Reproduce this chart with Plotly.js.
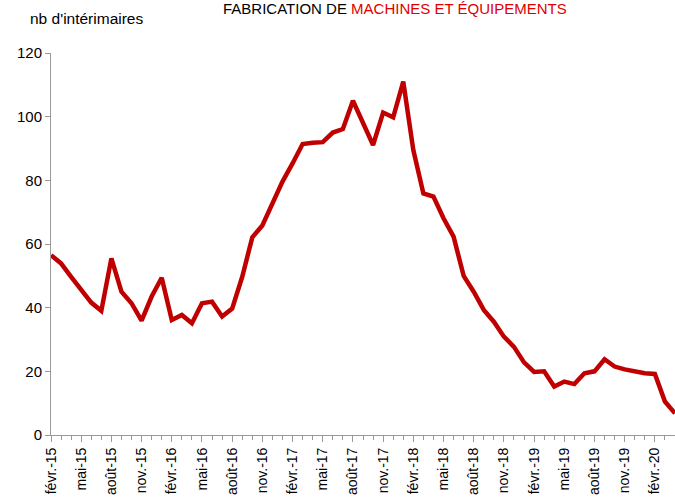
<!DOCTYPE html>
<html>
<head>
<meta charset="utf-8">
<script src="https://cdn.plot.ly/plotly-3.0.1.min.js"></script>
<style>html,body{margin:0;padding:0;background:#fff;}#chart{width:675px;height:504px;}</style>
</head>
<body>
<div id="chart"></div>
<script>
// Monthly values, févr.-15 to avr.-20
var interimaires = [56.5, 53.9, 49.7, 45.8, 41.6, 39.0, 55.5, 45.0, 41.4, 35.9,
  43.5, 49.4, 36.1, 37.7, 35.1, 41.4, 41.9, 37.2, 39.7, 49.7,
  62.1, 65.8, 72.8, 79.6, 85.3, 91.4, 91.8, 92.0, 95.0, 96.1,
  105.0, 97.9, 91.1, 101.3, 99.8, 111.0, 89.5, 75.9, 74.9, 68.1,
  62.3, 50.0, 45.0, 39.3, 35.6, 30.9, 27.7, 22.8, 19.8, 20.0,
  15.2, 16.8, 16.0, 19.4, 20.0, 23.8, 21.5, 20.6, 19.9, 19.4,
  19.2, 10.5, 6.8];
var tickLabels = ["févr.-15","mai-15","août-15","nov.-15","févr.-16","mai-16","août-16","nov.-16",
  "févr.-17","mai-17","août-17","nov.-17","févr.-18","mai-18","août-18","nov.-18",
  "févr.-19","mai-19","août-19","nov.-19","févr.-20"];
var yTicks = [0, 20, 40, 60, 80, 100, 120];

var xIdx = interimaires.map(function(_, i){ return i; });
var tickPos = tickLabels.map(function(_, i){ return i * 3; });

var font = "'Liberation Sans', Arial, sans-serif";

var trace = {
  x: xIdx, y: interimaires, type: 'scatter', mode: 'lines',
  line: {color: '#c00000', width: 4.5}, hoverinfo: 'skip', cliponaxis: false
};

var layout = {
  width: 675, height: 504,
  margin: {l: 51, r: 0, t: 53, b: 69},
  paper_bgcolor: '#fff', plot_bgcolor: '#fff',
  showlegend: false,
  font: {family: font, size: 15, color: '#000'},
  xaxis: {
    range: [0, interimaires.length - 1],
    tickmode: 'array', tickvals: tickPos, ticktext: tickLabels,
    tickangle: -90, ticks: 'outside', ticklen: 6, tickcolor: '#999',
    minor: {tickmode: 'linear', tick0: 0, dtick: 1, ticks: 'outside', ticklen: 4, tickcolor: '#999'},
    showline: true, linecolor: '#999', linewidth: 1,
    showgrid: false, zeroline: false, automargin: false,
    tickfont: {family: font, size: 14, color: '#000'}
  },
  yaxis: {
    range: [0, 120], tickmode: 'array', tickvals: yTicks,
    ticks: 'outside', ticklen: 5, tickcolor: '#999',
    showline: true, linecolor: '#999', linewidth: 1,
    showgrid: false, zeroline: false, automargin: false,
    tickfont: {family: font, size: 15, color: '#000'}
  },
  annotations: [
    {text: "FABRICATION DE <span style='color:#e00000'>MACHINES ET ÉQUIPEMENTS</span>",
     xref: 'paper', yref: 'paper', x: 0.551, y: 1, xanchor: 'center', yanchor: 'bottom',
     yshift: 34, showarrow: false, font: {family: font, size: 15, color: '#000'}},
    {text: "nb d'intérimaires", xref: 'paper', yref: 'paper', x: 0, y: 1,
     xanchor: 'left', yanchor: 'middle', xshift: -23, yshift: 35, showarrow: false,
     font: {family: font, size: 15.5, color: '#000'}}
  ]
};

Plotly.newPlot('chart', [trace], layout, {staticPlot: true, displayModeBar: false});
</script>
</body>
</html>
